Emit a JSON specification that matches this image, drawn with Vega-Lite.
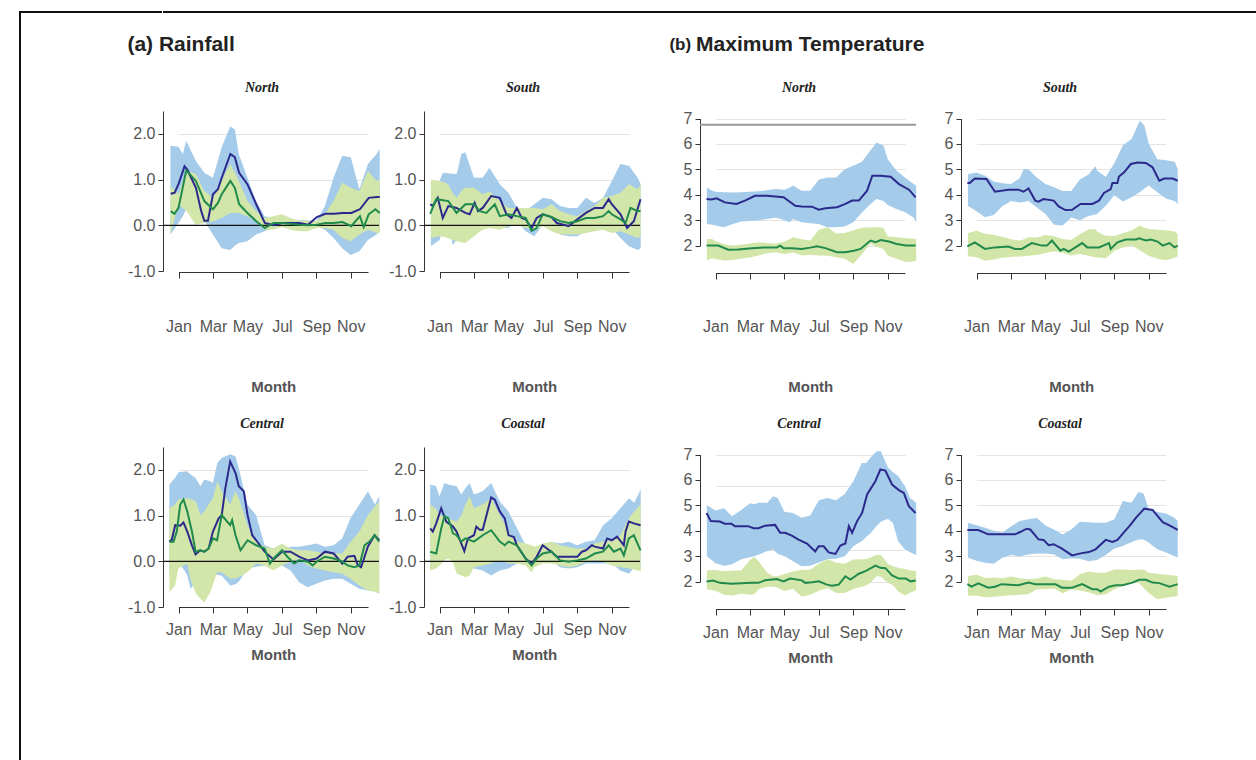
{
  "$schema": "https://vega.github.io/schema/vega-lite/v6.json",
  "background": "white",
  "padding": {"left": 19, "top": 11, "right": 0, "bottom": 0},
  "config": {
    "view": {"stroke": null},
    "axis": {"domainColor": "#333333", "domainWidth": 1, "tickColor": "#333333", "tickWidth": 1, "labelColor": "#555555", "labelFont": "Liberation Sans", "labelFontSize": 16, "labelOverlap": false, "labelFlush": false, "titleFont": "Liberation Sans", "titleFontSize": 15, "titleFontWeight": "bold", "titleColor": "#555555", "gridColor": "#e4e4e4", "gridWidth": 1},
    "title": {"font": "Liberation Serif", "fontStyle": "italic", "fontWeight": "bold", "fontSize": 14, "color": "#222222", "offset": 16, "dx": -9}
  },
  "datasets": {
    "rn_b": [{"m":0.53,"bl":-0.2,"bh":1.74,"gl":-0.2,"gh":0.86},{"m":1.0,"bl":0.05,"bh":1.72,"gl":0.46,"gh":0.68},{"m":1.25,"bl":0.2,"bh":1.56,"gl":0.38,"gh":0.97},{"m":1.45,"bl":0.35,"bh":1.85,"gl":0.32,"gh":1.2},{"m":2.0,"bl":0.38,"bh":1.41,"gl":0.01,"gh":1.12},{"m":2.5,"bl":0.09,"bh":1.15,"gl":0.05,"gh":0.75},{"m":3.0,"bl":-0.2,"bh":1.04,"gl":0.09,"gh":0.6},{"m":3.5,"bl":-0.5,"bh":1.7,"gl":0.16,"gh":0.97},{"m":4.0,"bl":-0.54,"bh":2.16,"gl":0.27,"gh":1.34},{"m":4.27,"bl":-0.45,"bh":2.1,"gl":0.27,"gh":1.15},{"m":4.5,"bl":-0.39,"bh":1.56,"gl":0.27,"gh":0.97},{"m":5.0,"bl":-0.35,"bh":1.04,"gl":0.2,"gh":0.53},{"m":5.5,"bl":-0.2,"bh":0.53,"gl":0.09,"gh":0.31},{"m":6.0,"bl":-0.13,"bh":0.2,"gl":-0.1,"gh":0.16},{"m":6.5,"bl":-0.06,"bh":0.16,"gl":-0.1,"gh":0.2},{"m":7.0,"bl":-0.02,"bh":0.13,"gl":-0.04,"gh":0.24},{"m":7.5,"bl":-0.04,"bh":0.12,"gl":-0.1,"gh":0.16},{"m":8.0,"bl":-0.06,"bh":0.11,"gl":-0.13,"gh":0.1},{"m":8.5,"bl":-0.04,"bh":0.11,"gl":-0.13,"gh":0.1},{"m":9.0,"bl":-0.02,"bh":0.09,"gl":-0.06,"gh":0.09},{"m":9.5,"bl":-0.1,"bh":0.42,"gl":-0.06,"gh":0.24},{"m":10.0,"bl":-0.28,"bh":1.04,"gl":-0.1,"gh":0.53},{"m":10.5,"bl":-0.5,"bh":1.52,"gl":-0.28,"gh":0.93},{"m":11.0,"bl":-0.65,"bh":1.49,"gl":-0.35,"gh":0.82},{"m":11.5,"bl":-0.57,"bh":0.79,"gl":-0.2,"gh":0.75},{"m":12.0,"bl":-0.32,"bh":1.34,"gl":-0.1,"gh":1.19},{"m":12.5,"bl":-0.2,"bh":1.56,"gl":-0.17,"gh":0.97},{"m":12.68,"bl":-0.13,"bh":1.67,"gl":-0.17,"gh":1.0}],
    "rn_n": [{"m":0.55,"v":0.69},{"m":0.77,"v":0.71},{"m":1.0,"v":0.9},{"m":1.35,"v":1.29},{"m":1.51,"v":1.22},{"m":2.01,"v":0.82},{"m":2.32,"v":0.31},{"m":2.5,"v":0.1},{"m":2.71,"v":0.1},{"m":3.0,"v":0.68},{"m":3.29,"v":0.79},{"m":3.51,"v":1.04},{"m":4.01,"v":1.56},{"m":4.27,"v":1.49},{"m":4.52,"v":1.15},{"m":5.0,"v":0.9},{"m":5.51,"v":0.46},{"m":6.01,"v":0.05},{"m":6.52,"v":0.0},{"m":7.03,"v":0.05},{"m":7.53,"v":0.05},{"m":8.02,"v":0.05},{"m":8.52,"v":0.01},{"m":9.03,"v":0.18},{"m":9.53,"v":0.25},{"m":10.02,"v":0.25},{"m":10.52,"v":0.27},{"m":11.03,"v":0.27},{"m":11.53,"v":0.35},{"m":12.04,"v":0.6},{"m":12.54,"v":0.62},{"m":12.68,"v":0.62}],
    "rn_g": [{"m":0.55,"v":0.31},{"m":0.77,"v":0.25},{"m":1.0,"v":0.38},{"m":1.45,"v":1.2},{"m":2.01,"v":0.97},{"m":2.5,"v":0.53},{"m":3.0,"v":0.35},{"m":3.29,"v":0.49},{"m":3.51,"v":0.68},{"m":4.01,"v":0.97},{"m":4.27,"v":0.82},{"m":4.52,"v":0.46},{"m":5.0,"v":0.27},{"m":5.51,"v":0.09},{"m":6.01,"v":-0.06},{"m":6.52,"v":0.05},{"m":7.03,"v":0.05},{"m":7.53,"v":0.03},{"m":8.02,"v":0.01},{"m":8.52,"v":0.0},{"m":9.03,"v":0.01},{"m":9.53,"v":0.05},{"m":10.02,"v":0.05},{"m":10.52,"v":0.07},{"m":11.03,"v":-0.02},{"m":11.53,"v":0.2},{"m":11.75,"v":-0.04},{"m":12.04,"v":0.24},{"m":12.43,"v":0.35},{"m":12.68,"v":0.27}],
    "rs_b": [{"m":0.5,"bl":-0.46,"bh":0.97,"gl":-0.28,"gh":1.0},{"m":1.0,"bl":-0.32,"bh":0.97,"gl":-0.24,"gh":0.97},{"m":1.2,"bl":-0.1,"bh":1.15,"gl":-0.25,"gh":0.95},{"m":1.5,"bl":0.05,"bh":1.14,"gl":-0.28,"gh":0.9},{"m":1.77,"bl":-0.43,"bh":1.13,"gl":-0.33,"gh":0.7},{"m":2.0,"bl":-0.32,"bh":1.12,"gl":-0.35,"gh":0.6},{"m":2.27,"bl":-0.2,"bh":1.56,"gl":-0.37,"gh":0.75},{"m":2.5,"bl":-0.13,"bh":1.6,"gl":-0.39,"gh":0.82},{"m":3.0,"bl":-0.06,"bh":1.04,"gl":-0.24,"gh":0.82},{"m":3.5,"bl":-0.06,"bh":1.04,"gl":-0.1,"gh":0.68},{"m":3.9,"bl":-0.06,"bh":1.26,"gl":-0.06,"gh":0.74},{"m":4.5,"bl":-0.06,"bh":0.9,"gl":-0.1,"gh":0.53},{"m":5.0,"bl":-0.06,"bh":0.71,"gl":-0.02,"gh":0.38},{"m":5.5,"bl":0.09,"bh":0.38,"gl":0.01,"gh":0.38},{"m":6.0,"bl":-0.13,"bh":0.31,"gl":-0.06,"gh":0.38},{"m":6.5,"bl":-0.24,"bh":0.46,"gl":-0.1,"gh":0.38},{"m":7.0,"bl":0.01,"bh":0.6,"gl":-0.02,"gh":0.35},{"m":7.5,"bl":0.0,"bh":0.57,"gl":-0.13,"gh":0.46},{"m":8.0,"bl":-0.2,"bh":0.42,"gl":-0.2,"gh":0.31},{"m":8.5,"bl":-0.24,"bh":0.38,"gl":-0.2,"gh":0.24},{"m":9.0,"bl":-0.24,"bh":0.38,"gl":-0.2,"gh":0.2},{"m":9.5,"bl":-0.13,"bh":0.6,"gl":-0.17,"gh":0.31},{"m":10.0,"bl":0.01,"bh":0.49,"gl":-0.13,"gh":0.42},{"m":10.5,"bl":-0.1,"bh":0.6,"gl":-0.1,"gh":0.6},{"m":11.0,"bl":-0.06,"bh":0.97,"gl":-0.17,"gh":0.64},{"m":11.5,"bl":-0.28,"bh":1.34,"gl":-0.13,"gh":0.71},{"m":12.0,"bl":-0.46,"bh":1.3,"gl":-0.2,"gh":0.9},{"m":12.5,"bl":-0.54,"bh":1.04,"gl":-0.28,"gh":0.79},{"m":12.68,"bl":-0.5,"bh":0.9,"gl":-0.24,"gh":0.9}],
    "rs_n": [{"m":0.46,"v":0.46},{"m":0.61,"v":0.42},{"m":0.9,"v":0.6},{"m":1.19,"v":0.16},{"m":1.51,"v":0.42},{"m":1.99,"v":0.38},{"m":2.5,"v":0.27},{"m":2.75,"v":0.24},{"m":3.04,"v":0.49},{"m":3.24,"v":0.31},{"m":3.51,"v":0.38},{"m":4.0,"v":0.64},{"m":4.5,"v":0.6},{"m":4.89,"v":0.24},{"m":5.18,"v":0.16},{"m":5.49,"v":0.38},{"m":5.77,"v":0.16},{"m":6.0,"v":0.13},{"m":6.35,"v":-0.06},{"m":6.64,"v":0.16},{"m":6.99,"v":0.24},{"m":7.5,"v":0.18},{"m":7.81,"v":0.05},{"m":8.2,"v":0.01},{"m":8.49,"v":-0.02},{"m":9.0,"v":0.13},{"m":9.5,"v":0.27},{"m":10.01,"v":0.38},{"m":10.49,"v":0.38},{"m":10.82,"v":0.57},{"m":11.0,"v":0.46},{"m":11.51,"v":0.24},{"m":11.89,"v":-0.06},{"m":12.28,"v":0.09},{"m":12.67,"v":0.57}],
    "rs_g": [{"m":0.46,"v":0.25},{"m":0.81,"v":0.57},{"m":1.51,"v":0.53},{"m":1.99,"v":0.27},{"m":2.5,"v":0.46},{"m":3.0,"v":0.46},{"m":3.33,"v":0.31},{"m":3.72,"v":0.27},{"m":4.21,"v":0.46},{"m":4.5,"v":0.2},{"m":5.0,"v":0.24},{"m":5.49,"v":0.2},{"m":6.0,"v":0.16},{"m":6.35,"v":-0.12},{"m":6.64,"v":-0.06},{"m":6.99,"v":0.24},{"m":7.5,"v":0.18},{"m":8.0,"v":0.09},{"m":8.49,"v":0.05},{"m":9.0,"v":0.09},{"m":9.5,"v":0.16},{"m":10.01,"v":0.16},{"m":10.49,"v":0.2},{"m":10.82,"v":0.31},{"m":11.0,"v":0.24},{"m":11.51,"v":0.13},{"m":11.8,"v":0.05},{"m":12.09,"v":0.38},{"m":12.5,"v":0.31},{"m":12.67,"v":0.31}],
    "rc_b": [{"m":0.47,"bl":-0.3,"bh":1.68,"gl":-0.68,"gh":1.16},{"m":0.8,"bl":-0.2,"bh":1.82,"gl":-0.53,"gh":1.24},{"m":1.0,"bl":0.0,"bh":1.95,"gl":-0.15,"gh":1.35},{"m":1.5,"bl":-0.3,"bh":1.97,"gl":-0.05,"gh":1.38},{"m":1.7,"bl":-0.6,"bh":1.9,"gl":-0.4,"gh":1.36},{"m":2.0,"bl":-0.45,"bh":1.82,"gl":-0.7,"gh":1.31},{"m":2.27,"bl":-0.3,"bh":1.64,"gl":-0.82,"gh":1.01},{"m":2.5,"bl":-0.24,"bh":1.79,"gl":-0.9,"gh":1.09},{"m":2.85,"bl":-0.27,"bh":1.75,"gl":-0.68,"gh":1.3},{"m":3.0,"bl":-0.28,"bh":1.71,"gl":-0.5,"gh":1.38},{"m":3.25,"bl":-0.3,"bh":2.15,"gl":-0.24,"gh":1.75},{"m":3.5,"bl":-0.31,"bh":2.26,"gl":-0.24,"gh":1.53},{"m":4.0,"bl":-0.53,"bh":2.34,"gl":-0.38,"gh":1.24},{"m":4.3,"bl":-0.5,"bh":2.3,"gl":-0.37,"gh":1.53},{"m":4.5,"bl":-0.45,"bh":2.04,"gl":-0.35,"gh":1.38},{"m":5.0,"bl":-0.16,"bh":1.24,"gl":-0.24,"gh":0.79},{"m":5.5,"bl":-0.12,"bh":1.01,"gl":-0.05,"gh":0.43},{"m":6.0,"bl":-0.09,"bh":0.35,"gl":-0.09,"gh":0.32},{"m":6.5,"bl":-0.09,"bh":0.28,"gl":-0.2,"gh":0.28},{"m":7.0,"bl":-0.09,"bh":0.24,"gl":-0.09,"gh":0.39},{"m":7.5,"bl":-0.2,"bh":0.32,"gl":-0.01,"gh":0.28},{"m":8.0,"bl":-0.46,"bh":0.32,"gl":0.06,"gh":0.24},{"m":8.5,"bl":-0.57,"bh":0.35,"gl":-0.09,"gh":0.24},{"m":9.0,"bl":-0.49,"bh":0.39,"gl":-0.16,"gh":0.21},{"m":9.5,"bl":-0.42,"bh":0.32,"gl":-0.2,"gh":0.17},{"m":10.0,"bl":-0.38,"bh":0.35,"gl":-0.24,"gh":0.17},{"m":10.5,"bl":-0.38,"bh":0.5,"gl":-0.27,"gh":0.17},{"m":11.0,"bl":-0.49,"bh":0.96,"gl":-0.38,"gh":0.43},{"m":11.5,"bl":-0.6,"bh":1.24,"gl":-0.53,"gh":0.65},{"m":12.0,"bl":-0.64,"bh":1.53,"gl":-0.64,"gh":1.01},{"m":12.4,"bl":-0.66,"bh":1.24,"gl":-0.66,"gh":1.2},{"m":12.65,"bl":-0.71,"bh":1.42,"gl":-0.71,"gh":1.31}],
    "rc_n": [{"m":0.47,"v":0.43},{"m":0.61,"v":0.47},{"m":0.81,"v":0.79},{"m":1.1,"v":0.78},{"m":1.29,"v":0.85},{"m":1.51,"v":0.65},{"m":1.78,"v":0.35},{"m":1.99,"v":0.15},{"m":2.26,"v":0.24},{"m":2.5,"v":0.21},{"m":2.75,"v":0.28},{"m":3.0,"v":0.65},{"m":3.33,"v":0.94},{"m":3.51,"v":1.01},{"m":3.72,"v":1.6},{"m":4.0,"v":2.18},{"m":4.31,"v":1.93},{"m":4.5,"v":1.64},{"m":4.79,"v":1.53},{"m":5.01,"v":1.01},{"m":5.28,"v":0.57},{"m":5.51,"v":0.46},{"m":6.0,"v":0.21},{"m":6.51,"v":0.04},{"m":7.01,"v":0.21},{"m":7.5,"v":0.21},{"m":8.0,"v":0.1},{"m":8.51,"v":0.02},{"m":9.02,"v":0.06},{"m":9.5,"v":0.21},{"m":10.01,"v":0.17},{"m":10.51,"v":-0.05},{"m":10.82,"v":0.1},{"m":11.21,"v":0.12},{"m":11.41,"v":-0.09},{"m":11.6,"v":-0.13},{"m":11.99,"v":0.32},{"m":12.38,"v":0.57},{"m":12.65,"v":0.46}],
    "rc_g": [{"m":0.47,"v":0.43},{"m":0.71,"v":0.43},{"m":0.9,"v":0.65},{"m":1.1,"v":1.24},{"m":1.29,"v":1.35},{"m":1.51,"v":1.09},{"m":1.78,"v":0.65},{"m":1.99,"v":0.21},{"m":2.26,"v":0.24},{"m":2.5,"v":0.21},{"m":2.75,"v":0.28},{"m":3.0,"v":0.5},{"m":3.24,"v":0.46},{"m":3.51,"v":1.01},{"m":3.82,"v":0.87},{"m":4.0,"v":0.79},{"m":4.11,"v":0.9},{"m":4.31,"v":0.57},{"m":4.6,"v":0.24},{"m":5.01,"v":0.46},{"m":5.51,"v":0.35},{"m":6.0,"v":0.28},{"m":6.31,"v":-0.05},{"m":6.51,"v":0.06},{"m":7.01,"v":0.24},{"m":7.32,"v":0.1},{"m":7.71,"v":-0.05},{"m":8.0,"v":0.02},{"m":8.51,"v":-0.01},{"m":8.78,"v":-0.09},{"m":9.02,"v":-0.01},{"m":9.5,"v":0.1},{"m":10.01,"v":0.06},{"m":10.51,"v":-0.01},{"m":10.82,"v":-0.09},{"m":11.21,"v":-0.13},{"m":11.5,"v":-0.09},{"m":11.8,"v":0.35},{"m":12.09,"v":0.43},{"m":12.38,"v":0.57},{"m":12.65,"v":0.43}],
    "rk_b": [{"m":0.46,"bl":-0.2,"bh":1.68,"gl":-0.2,"gh":1.24},{"m":0.8,"bl":0.0,"bh":1.64,"gl":-0.16,"gh":1.15},{"m":1.0,"bl":0.06,"bh":1.42,"gl":-0.09,"gh":1.01},{"m":1.29,"bl":0.3,"bh":1.71,"gl":0.02,"gh":0.97},{"m":1.5,"bl":0.35,"bh":1.68,"gl":0.06,"gh":0.94},{"m":1.77,"bl":0.2,"bh":1.66,"gl":-0.01,"gh":0.9},{"m":2.0,"bl":-0.16,"bh":1.64,"gl":-0.27,"gh":0.87},{"m":2.27,"bl":-0.24,"bh":1.46,"gl":-0.31,"gh":1.0},{"m":2.5,"bl":-0.16,"bh":1.6,"gl":-0.35,"gh":1.24},{"m":2.75,"bl":-0.16,"bh":1.71,"gl":-0.31,"gh":1.42},{"m":3.0,"bl":-0.16,"bh":1.46,"gl":-0.13,"gh":1.16},{"m":3.5,"bl":-0.2,"bh":1.53,"gl":-0.09,"gh":1.24},{"m":4.0,"bl":-0.31,"bh":1.71,"gl":-0.05,"gh":1.38},{"m":4.5,"bl":-0.2,"bh":1.31,"gl":0.02,"gh":1.01},{"m":5.0,"bl":-0.16,"bh":1.09,"gl":-0.05,"gh":0.65},{"m":5.5,"bl":-0.05,"bh":0.72,"gl":-0.05,"gh":0.43},{"m":6.0,"bl":-0.01,"bh":0.35,"gl":-0.09,"gh":0.39},{"m":6.35,"bl":-0.12,"bh":0.2,"gl":-0.24,"gh":0.35},{"m":6.5,"bl":-0.13,"bh":0.17,"gl":-0.13,"gh":0.32},{"m":7.0,"bl":-0.01,"bh":0.35,"gl":-0.05,"gh":0.39},{"m":7.5,"bl":0.02,"bh":0.43,"gl":-0.05,"gh":0.43},{"m":8.0,"bl":-0.13,"bh":0.39,"gl":-0.09,"gh":0.35},{"m":8.5,"bl":-0.16,"bh":0.43,"gl":-0.13,"gh":0.31},{"m":9.0,"bl":-0.13,"bh":0.35,"gl":-0.09,"gh":0.28},{"m":9.5,"bl":-0.05,"bh":0.43,"gl":-0.01,"gh":0.28},{"m":10.0,"bl":-0.05,"bh":0.46,"gl":0.02,"gh":0.39},{"m":10.5,"bl":-0.05,"bh":0.79,"gl":-0.01,"gh":0.43},{"m":11.0,"bl":-0.05,"bh":0.94,"gl":-0.09,"gh":0.46},{"m":11.5,"bl":-0.2,"bh":1.16,"gl":-0.13,"gh":0.57},{"m":12.0,"bl":-0.27,"bh":1.38,"gl":-0.16,"gh":0.94},{"m":12.3,"bl":-0.13,"bh":1.28,"gl":-0.18,"gh":1.09},{"m":12.68,"bl":-0.16,"bh":1.57,"gl":-0.22,"gh":1.24}],
    "rk_n": [{"m":0.46,"v":0.72},{"m":0.61,"v":0.65},{"m":0.81,"v":0.83},{"m":1.1,"v":1.16},{"m":1.39,"v":0.87},{"m":1.78,"v":0.76},{"m":1.99,"v":0.65},{"m":2.44,"v":0.22},{"m":2.65,"v":0.5},{"m":3.0,"v":0.57},{"m":3.14,"v":0.76},{"m":3.33,"v":0.69},{"m":3.51,"v":0.69},{"m":4.0,"v":1.4},{"m":4.21,"v":1.35},{"m":4.5,"v":1.09},{"m":4.79,"v":0.94},{"m":5.01,"v":0.57},{"m":5.32,"v":0.53},{"m":5.49,"v":0.35},{"m":6.0,"v":0.06},{"m":6.35,"v":-0.05},{"m":6.64,"v":0.1},{"m":6.99,"v":0.35},{"m":7.23,"v":0.28},{"m":7.5,"v":0.21},{"m":7.81,"v":0.1},{"m":8.49,"v":0.1},{"m":9.0,"v":0.1},{"m":9.27,"v":0.21},{"m":9.5,"v":0.24},{"m":9.85,"v":0.35},{"m":10.01,"v":0.32},{"m":10.49,"v":0.28},{"m":10.73,"v":0.5},{"m":11.0,"v":0.46},{"m":11.31,"v":0.54},{"m":11.7,"v":0.35},{"m":11.8,"v":0.65},{"m":11.99,"v":0.87},{"m":12.28,"v":0.83},{"m":12.67,"v":0.79}],
    "rk_g": [{"m":0.46,"v":0.21},{"m":0.81,"v":0.17},{"m":1.1,"v":0.72},{"m":1.29,"v":0.99},{"m":1.51,"v":0.94},{"m":1.78,"v":0.61},{"m":1.99,"v":0.57},{"m":2.26,"v":0.43},{"m":2.5,"v":0.5},{"m":3.0,"v":0.43},{"m":3.51,"v":0.57},{"m":4.0,"v":0.68},{"m":4.5,"v":0.43},{"m":4.79,"v":0.35},{"m":5.01,"v":0.43},{"m":5.49,"v":0.35},{"m":6.0,"v":0.06},{"m":6.35,"v":-0.09},{"m":6.64,"v":0.06},{"m":6.99,"v":0.17},{"m":7.5,"v":0.21},{"m":8.0,"v":0.02},{"m":8.49,"v":-0.01},{"m":9.0,"v":0.02},{"m":9.5,"v":0.06},{"m":10.01,"v":0.17},{"m":10.49,"v":0.21},{"m":10.82,"v":0.35},{"m":11.12,"v":0.21},{"m":11.51,"v":0.28},{"m":11.7,"v":0.13},{"m":11.99,"v":0.5},{"m":12.28,"v":0.57},{"m":12.67,"v":0.24}],
    "tn_b": [{"m":0.5,"bl":2.85,"bh":4.29,"gl":1.41,"gh":2.26},{"m":0.8,"bl":2.82,"bh":4.16,"gl":1.5,"gh":2.26},{"m":1.0,"bl":2.79,"bh":4.12,"gl":1.47,"gh":2.18},{"m":1.5,"bl":2.72,"bh":4.1,"gl":1.41,"gh":2.05},{"m":2.0,"bl":2.85,"bh":4.09,"gl":1.43,"gh":2.0},{"m":2.5,"bl":2.95,"bh":4.1,"gl":1.48,"gh":2.03},{"m":3.0,"bl":2.97,"bh":4.12,"gl":1.53,"gh":2.08},{"m":3.5,"bl":3.0,"bh":4.14,"gl":1.61,"gh":2.13},{"m":4.0,"bl":3.05,"bh":4.18,"gl":1.7,"gh":2.1},{"m":4.5,"bl":3.11,"bh":4.23,"gl":1.74,"gh":2.07},{"m":5.0,"bl":3.0,"bh":4.2,"gl":1.67,"gh":2.16},{"m":5.3,"bl":2.92,"bh":4.28,"gl":1.7,"gh":2.25},{"m":5.5,"bl":3.05,"bh":4.36,"gl":1.74,"gh":2.33},{"m":6.0,"bl":2.92,"bh":4.16,"gl":1.61,"gh":2.25},{"m":6.5,"bl":2.88,"bh":4.16,"gl":1.64,"gh":2.2},{"m":7.0,"bl":2.85,"bh":4.6,"gl":1.61,"gh":2.62},{"m":7.5,"bl":2.72,"bh":4.68,"gl":1.6,"gh":2.72},{"m":8.0,"bl":2.72,"bh":4.68,"gl":1.54,"gh":2.48},{"m":8.5,"bl":2.75,"bh":5.0,"gl":1.48,"gh":2.5},{"m":9.0,"bl":2.92,"bh":5.14,"gl":1.28,"gh":2.6},{"m":9.5,"bl":3.3,"bh":5.3,"gl":1.67,"gh":2.7},{"m":10.0,"bl":3.64,"bh":5.75,"gl":2.07,"gh":2.72},{"m":10.35,"bl":3.83,"bh":6.06,"gl":1.95,"gh":2.72},{"m":10.75,"bl":3.75,"bh":5.93,"gl":1.87,"gh":2.7},{"m":11.0,"bl":3.6,"bh":5.4,"gl":1.6,"gh":2.36},{"m":11.5,"bl":3.44,"bh":4.95,"gl":1.48,"gh":2.33},{"m":12.0,"bl":3.31,"bh":4.68,"gl":1.35,"gh":2.3},{"m":12.5,"bl":3.11,"bh":4.42,"gl":1.37,"gh":2.27},{"m":12.65,"bl":2.92,"bh":4.36,"gl":1.41,"gh":2.26}],
    "tn_n": [{"m":0.48,"v":3.83},{"m":0.77,"v":3.81},{"m":1.06,"v":3.86},{"m":1.54,"v":3.7},{"m":2.22,"v":3.64},{"m":2.71,"v":3.77},{"m":3.29,"v":3.96},{"m":3.97,"v":3.96},{"m":4.95,"v":3.9},{"m":5.63,"v":3.57},{"m":6.01,"v":3.54},{"m":6.6,"v":3.53},{"m":6.99,"v":3.41},{"m":7.38,"v":3.47},{"m":8.06,"v":3.51},{"m":8.54,"v":3.64},{"m":8.93,"v":3.77},{"m":9.32,"v":3.77},{"m":9.8,"v":4.16},{"m":10.1,"v":4.75},{"m":10.58,"v":4.75},{"m":11.17,"v":4.71},{"m":11.65,"v":4.42},{"m":12.23,"v":4.2},{"m":12.62,"v":3.9}],
    "tn_g": [{"m":0.48,"v":2.0},{"m":1.16,"v":2.0},{"m":1.74,"v":1.84},{"m":2.32,"v":1.85},{"m":3.1,"v":1.9},{"m":3.88,"v":1.93},{"m":4.56,"v":1.93},{"m":4.75,"v":2.0},{"m":4.95,"v":1.9},{"m":5.43,"v":1.9},{"m":6.01,"v":1.87},{"m":6.5,"v":1.92},{"m":6.89,"v":1.97},{"m":7.38,"v":1.9},{"m":8.06,"v":1.74},{"m":8.54,"v":1.74},{"m":9.03,"v":1.8},{"m":9.42,"v":1.87},{"m":10.0,"v":2.2},{"m":10.29,"v":2.13},{"m":10.58,"v":2.22},{"m":11.07,"v":2.16},{"m":11.46,"v":2.07},{"m":12.04,"v":2.0},{"m":12.62,"v":2.0}],
    "ts_b": [{"m":0.5,"bl":3.57,"bh":4.81,"gl":1.58,"gh":2.5},{"m":1.0,"bl":3.35,"bh":4.88,"gl":1.54,"gh":2.58},{"m":1.5,"bl":3.12,"bh":4.75,"gl":1.4,"gh":2.47},{"m":2.0,"bl":3.2,"bh":4.52,"gl":1.45,"gh":2.43},{"m":2.5,"bl":3.55,"bh":4.45,"gl":1.52,"gh":2.35},{"m":3.0,"bl":3.75,"bh":4.42,"gl":1.55,"gh":2.25},{"m":3.5,"bl":3.7,"bh":4.65,"gl":1.57,"gh":2.2},{"m":3.75,"bl":3.72,"bh":5.01,"gl":1.58,"gh":2.25},{"m":4.0,"bl":3.76,"bh":5.0,"gl":1.6,"gh":2.33},{"m":4.5,"bl":3.5,"bh":4.68,"gl":1.63,"gh":2.32},{"m":5.0,"bl":3.24,"bh":4.42,"gl":1.71,"gh":2.42},{"m":5.5,"bl":2.82,"bh":4.3,"gl":1.78,"gh":2.37},{"m":6.0,"bl":2.79,"bh":4.15,"gl":1.72,"gh":2.26},{"m":6.5,"bl":3.11,"bh":4.15,"gl":1.61,"gh":2.22},{"m":7.0,"bl":3.0,"bh":4.6,"gl":1.67,"gh":2.45},{"m":7.5,"bl":3.16,"bh":4.8,"gl":1.6,"gh":2.63},{"m":7.9,"bl":3.22,"bh":5.12,"gl":1.54,"gh":2.65},{"m":8.0,"bl":3.24,"bh":4.95,"gl":1.53,"gh":2.55},{"m":8.5,"bl":3.57,"bh":4.7,"gl":1.5,"gh":2.39},{"m":9.0,"bl":3.98,"bh":5.25,"gl":1.8,"gh":2.38},{"m":9.5,"bl":3.73,"bh":5.95,"gl":1.93,"gh":2.5},{"m":10.0,"bl":3.9,"bh":6.19,"gl":2.0,"gh":2.59},{"m":10.48,"bl":4.1,"bh":6.91,"gl":1.82,"gh":2.79},{"m":10.75,"bl":4.25,"bh":6.71,"gl":1.7,"gh":2.7},{"m":11.0,"bl":4.36,"bh":6.0,"gl":1.6,"gh":2.65},{"m":11.5,"bl":4.1,"bh":5.4,"gl":1.48,"gh":2.62},{"m":12.0,"bl":3.85,"bh":5.36,"gl":1.42,"gh":2.6},{"m":12.5,"bl":3.75,"bh":5.3,"gl":1.52,"gh":2.55},{"m":12.68,"bl":3.64,"bh":5.01,"gl":1.58,"gh":2.46}],
    "ts_n": [{"m":0.47,"v":4.46},{"m":0.61,"v":4.46},{"m":0.9,"v":4.64},{"m":1.58,"v":4.62},{"m":2.07,"v":4.12},{"m":2.85,"v":4.2},{"m":3.43,"v":4.2},{"m":3.73,"v":4.12},{"m":4.02,"v":4.25},{"m":4.41,"v":3.77},{"m":4.6,"v":3.73},{"m":4.89,"v":3.83},{"m":5.48,"v":3.77},{"m":5.77,"v":3.54},{"m":6.16,"v":3.4},{"m":6.55,"v":3.41},{"m":7.04,"v":3.64},{"m":7.72,"v":3.64},{"m":8.11,"v":3.77},{"m":8.4,"v":4.07},{"m":8.79,"v":4.22},{"m":8.89,"v":4.46},{"m":9.18,"v":4.46},{"m":9.27,"v":4.72},{"m":9.57,"v":4.88},{"m":9.96,"v":5.21},{"m":10.35,"v":5.27},{"m":10.83,"v":5.25},{"m":11.22,"v":5.08},{"m":11.61,"v":4.55},{"m":11.9,"v":4.64},{"m":12.39,"v":4.64},{"m":12.68,"v":4.55}],
    "ts_g": [{"m":0.47,"v":1.97},{"m":0.9,"v":2.13},{"m":1.49,"v":1.87},{"m":2.07,"v":1.93},{"m":2.85,"v":1.96},{"m":3.24,"v":1.87},{"m":3.63,"v":1.87},{"m":4.21,"v":2.1},{"m":4.8,"v":2.0},{"m":5.09,"v":2.0},{"m":5.38,"v":2.2},{"m":5.87,"v":1.8},{"m":6.06,"v":1.87},{"m":6.35,"v":1.76},{"m":6.74,"v":1.93},{"m":7.13,"v":2.1},{"m":7.43,"v":1.93},{"m":8.11,"v":1.93},{"m":8.69,"v":2.1},{"m":8.79,"v":1.87},{"m":9.18,"v":2.13},{"m":9.66,"v":2.24},{"m":10.25,"v":2.24},{"m":10.44,"v":2.29},{"m":10.83,"v":2.2},{"m":11.12,"v":2.24},{"m":11.51,"v":2.16},{"m":11.81,"v":2.0},{"m":12.2,"v":2.1},{"m":12.49,"v":1.93},{"m":12.68,"v":2.0}],
    "tc_b": [{"m":0.5,"bl":3.0,"bh":5.0,"gl":1.69,"gh":2.45},{"m":1.0,"bl":2.72,"bh":4.8,"gl":1.64,"gh":2.46},{"m":1.5,"bl":2.62,"bh":4.89,"gl":1.48,"gh":2.41},{"m":1.95,"bl":2.68,"bh":4.57,"gl":1.45,"gh":2.43},{"m":2.5,"bl":2.88,"bh":4.82,"gl":1.52,"gh":2.45},{"m":3.0,"bl":2.96,"bh":5.08,"gl":1.48,"gh":2.85},{"m":3.25,"bl":3.0,"bh":5.04,"gl":1.5,"gh":2.98},{"m":3.5,"bl":3.06,"bh":5.1,"gl":1.7,"gh":2.8},{"m":4.0,"bl":3.2,"bh":5.1,"gl":1.8,"gh":2.35},{"m":4.35,"bl":3.26,"bh":5.36,"gl":1.8,"gh":2.21},{"m":4.6,"bl":3.1,"bh":5.3,"gl":1.76,"gh":2.21},{"m":5.0,"bl":3.0,"bh":4.75,"gl":1.63,"gh":2.3},{"m":5.5,"bl":2.8,"bh":4.7,"gl":1.72,"gh":2.4},{"m":6.0,"bl":2.6,"bh":4.51,"gl":1.4,"gh":2.47},{"m":6.5,"bl":2.62,"bh":4.6,"gl":1.48,"gh":2.47},{"m":7.0,"bl":2.75,"bh":5.2,"gl":1.64,"gh":2.7},{"m":7.5,"bl":2.88,"bh":5.29,"gl":1.75,"gh":2.88},{"m":8.0,"bl":2.9,"bh":5.2,"gl":1.55,"gh":2.75},{"m":8.5,"bl":3.0,"bh":5.45,"gl":1.55,"gh":2.7},{"m":9.0,"bl":3.39,"bh":5.95,"gl":1.71,"gh":2.87},{"m":9.5,"bl":3.6,"bh":6.67,"gl":1.8,"gh":2.88},{"m":9.75,"bl":3.75,"bh":6.67,"gl":1.85,"gh":2.89},{"m":10.0,"bl":3.9,"bh":6.88,"gl":1.95,"gh":2.95},{"m":10.35,"bl":4.2,"bh":7.13,"gl":2.21,"gh":3.06},{"m":10.6,"bl":4.35,"bh":7.13,"gl":2.19,"gh":3.06},{"m":11.0,"bl":4.47,"bh":6.5,"gl":1.95,"gh":2.7},{"m":11.3,"bl":4.31,"bh":6.3,"gl":1.86,"gh":2.6},{"m":11.6,"bl":3.59,"bh":6.15,"gl":1.62,"gh":2.54},{"m":12.0,"bl":3.26,"bh":5.75,"gl":1.45,"gh":2.5},{"m":12.3,"bl":3.15,"bh":5.29,"gl":1.56,"gh":2.45},{"m":12.65,"bl":3.05,"bh":5.1,"gl":1.66,"gh":2.41}],
    "tc_n": [{"m":0.48,"v":4.7},{"m":0.73,"v":4.38},{"m":1.25,"v":4.36},{"m":1.54,"v":4.28},{"m":1.93,"v":4.28},{"m":2.13,"v":4.18},{"m":2.9,"v":4.18},{"m":3.2,"v":4.1},{"m":3.49,"v":4.1},{"m":3.88,"v":4.2},{"m":4.46,"v":4.23},{"m":4.75,"v":3.92},{"m":5.04,"v":3.92},{"m":5.43,"v":3.81},{"m":5.82,"v":3.65},{"m":6.31,"v":3.5},{"m":6.79,"v":3.19},{"m":6.99,"v":3.39},{"m":7.28,"v":3.39},{"m":7.57,"v":3.15},{"m":7.96,"v":3.09},{"m":8.25,"v":3.42},{"m":8.54,"v":3.5},{"m":8.74,"v":4.18},{"m":8.93,"v":3.92},{"m":9.22,"v":4.38},{"m":9.51,"v":4.7},{"m":9.8,"v":5.43},{"m":10.28,"v":5.95},{"m":10.57,"v":6.41},{"m":10.86,"v":6.37},{"m":11.25,"v":5.82},{"m":11.64,"v":5.6},{"m":11.93,"v":5.49},{"m":12.22,"v":4.97},{"m":12.61,"v":4.7}],
    "tc_g": [{"m":0.48,"v":2.0},{"m":0.86,"v":2.04},{"m":1.25,"v":1.95},{"m":1.93,"v":1.92},{"m":3.1,"v":1.95},{"m":3.49,"v":1.95},{"m":3.88,"v":2.05},{"m":4.56,"v":2.1},{"m":4.95,"v":2.01},{"m":5.33,"v":2.12},{"m":6.01,"v":2.05},{"m":6.21,"v":1.95},{"m":6.6,"v":1.97},{"m":6.99,"v":2.01},{"m":7.47,"v":1.88},{"m":7.76,"v":1.84},{"m":8.15,"v":1.88},{"m":8.54,"v":2.21},{"m":8.83,"v":2.08},{"m":9.32,"v":2.31},{"m":9.71,"v":2.41},{"m":10.28,"v":2.63},{"m":10.57,"v":2.54},{"m":10.86,"v":2.53},{"m":11.25,"v":2.24},{"m":11.64,"v":2.12},{"m":12.04,"v":2.12},{"m":12.33,"v":2.01},{"m":12.62,"v":2.04}],
    "tk_b": [{"m":0.5,"bl":2.94,"bh":4.32,"gl":1.44,"gh":2.22},{"m":1.0,"bl":2.82,"bh":4.22,"gl":1.44,"gh":2.27},{"m":1.5,"bl":2.74,"bh":4.12,"gl":1.38,"gh":2.14},{"m":2.0,"bl":2.7,"bh":4.0,"gl":1.4,"gh":2.16},{"m":2.5,"bl":2.94,"bh":3.93,"gl":1.43,"gh":2.13},{"m":3.0,"bl":3.05,"bh":4.17,"gl":1.46,"gh":2.2},{"m":3.5,"bl":2.99,"bh":4.38,"gl":1.48,"gh":2.13},{"m":4.0,"bl":3.07,"bh":4.45,"gl":1.5,"gh":2.09},{"m":4.5,"bl":3.11,"bh":4.5,"gl":1.7,"gh":2.12},{"m":5.0,"bl":3.11,"bh":4.21,"gl":1.7,"gh":2.2},{"m":5.5,"bl":3.07,"bh":4.05,"gl":1.73,"gh":2.09},{"m":6.0,"bl":2.88,"bh":3.85,"gl":1.54,"gh":2.07},{"m":6.5,"bl":2.92,"bh":4.05,"gl":1.7,"gh":2.03},{"m":7.0,"bl":2.9,"bh":4.35,"gl":1.65,"gh":2.29},{"m":7.5,"bl":2.8,"bh":4.33,"gl":1.58,"gh":2.4},{"m":8.0,"bl":2.85,"bh":4.32,"gl":1.46,"gh":2.35},{"m":8.5,"bl":3.05,"bh":4.32,"gl":1.5,"gh":2.35},{"m":9.0,"bl":3.3,"bh":4.45,"gl":1.7,"gh":2.48},{"m":9.5,"bl":3.4,"bh":5.17,"gl":1.83,"gh":2.48},{"m":10.0,"bl":3.56,"bh":5.1,"gl":1.96,"gh":2.46},{"m":10.4,"bl":3.66,"bh":5.52,"gl":1.96,"gh":2.47},{"m":10.7,"bl":3.66,"bh":5.47,"gl":1.75,"gh":2.48},{"m":11.0,"bl":3.53,"bh":4.84,"gl":1.55,"gh":2.35},{"m":11.5,"bl":3.27,"bh":4.74,"gl":1.31,"gh":2.31},{"m":12.0,"bl":3.14,"bh":4.68,"gl":1.36,"gh":2.27},{"m":12.5,"bl":3.0,"bh":4.5,"gl":1.41,"gh":2.24},{"m":12.68,"bl":2.94,"bh":4.38,"gl":1.44,"gh":2.22}],
    "tk_n": [{"m":0.47,"v":4.03},{"m":1.1,"v":4.03},{"m":1.68,"v":3.86},{"m":2.27,"v":3.86},{"m":3.24,"v":3.86},{"m":3.53,"v":3.95},{"m":3.92,"v":4.08},{"m":4.12,"v":4.05},{"m":4.6,"v":3.66},{"m":4.89,"v":3.64},{"m":5.19,"v":3.43},{"m":5.48,"v":3.47},{"m":5.96,"v":3.3},{"m":6.55,"v":3.03},{"m":7.04,"v":3.11},{"m":7.52,"v":3.16},{"m":7.91,"v":3.27},{"m":8.5,"v":3.64},{"m":8.89,"v":3.56},{"m":9.18,"v":3.64},{"m":9.57,"v":3.95},{"m":9.96,"v":4.25},{"m":10.25,"v":4.51},{"m":10.74,"v":4.87},{"m":11.22,"v":4.82},{"m":11.81,"v":4.34},{"m":12.2,"v":4.21},{"m":12.68,"v":4.03}],
    "tk_g": [{"m":0.47,"v":1.9},{"m":0.71,"v":1.8},{"m":1.1,"v":1.93},{"m":1.68,"v":1.76},{"m":2.07,"v":1.8},{"m":2.46,"v":1.9},{"m":3.43,"v":1.86},{"m":4.02,"v":1.96},{"m":4.41,"v":1.9},{"m":5.58,"v":1.9},{"m":5.96,"v":1.76},{"m":6.55,"v":1.76},{"m":7.13,"v":1.9},{"m":7.72,"v":1.7},{"m":8.01,"v":1.7},{"m":8.2,"v":1.61},{"m":8.69,"v":1.8},{"m":9.08,"v":1.86},{"m":9.47,"v":1.86},{"m":10.05,"v":1.96},{"m":10.44,"v":2.07},{"m":10.83,"v":2.07},{"m":11.22,"v":1.96},{"m":11.61,"v":1.94},{"m":12.2,"v":1.8},{"m":12.68,"v":1.9}]
  },
  "spacing": -36,
  "hconcat": [
    {
      "width": 142, "height": 780,
      "data": {"values": []},
      "mark": "point",
      "view": {"stroke": "#111111", "strokeWidth": 2, "strokeDash": [142, 780, 3000]}
    },
    {
      "spacing": 19,
      "vconcat": [
        {
          "width": 1140, "height": 1,
          "data": {"values": []},
          "mark": "point",
          "view": {"stroke": "#111111", "strokeWidth": 2, "strokeDash": [1140, 5000]}
        },
        {
          "spacing": 22,
          "vconcat": [
            {
              "spacing": 38,
              "title": {"text": "(b)", "anchor": "start", "font": "Liberation Sans", "fontStyle": "normal", "fontWeight": "bold", "fontSize": 17, "color": "#222222", "offset": 0, "dx": 542, "dy": 20},
              "hconcat": [
                {
                  "bounds": "flush",
                  "spacing": 45,
                  "title": {"text": "(a) Rainfall", "anchor": "start", "font": "Liberation Sans", "fontStyle": "normal", "fontWeight": "bold", "fontSize": 21, "color": "#222222", "offset": 26, "dx": 0},
                  "hconcat": [
                    {
                      "width": 216, "height": 160, "title": {"text": "North"},
                      "layer": [
                        {"data": {"name": "rn_b"}, "mark": {"type": "area", "color": "#a5cbea"}, "encoding": {
                          "x": {"field": "m", "type": "quantitative", "scale": {"domain": [1, 12], "range": [15.5, 205], "nice": false, "zero": false}, "axis": {"values": [1,2,3,4,5,6,7,8,9,10,11,12], "labelExpr": "['Jan','','Mar','','May','','Jul','','Sep','','Nov',''][datum.value - 1]", "title": "Month", "labelPadding": 40, "titlePadding": 45, "tickSize": 6, "offset": 1, "grid": false}},
                          "y": {"field": "bh", "type": "quantitative", "scale": {"domain": [-1, 2.5], "nice": false, "zero": false}, "axis": {"values": [-1,-0.5,0,0.5,1,1.5,2,2.5], "labelExpr": "datum.value % 1 !== 0 ? '' : (datum.value < 0 ? '-' : '') + format(abs(datum.value), '.1f')", "grid": true, "gridOpacity": {"condition": {"test": "datum.value === -1", "value": 0}, "value": 1}, "tickOpacity": {"condition": {"test": "datum.value % 1 === 0", "value": 1}, "value": 0}, "tickSize": 5, "labelPadding": 3, "title": null}},
                          "y2": {"field": "bl"}}},
                        {"data": {"name": "rn_b"}, "mark": {"type": "area", "color": "#d3e6a9"}, "encoding": {"x": {"field": "m", "type": "quantitative", "axis": {"title": "Month"}}, "y": {"field": "gh", "type": "quantitative", "axis": {"title": null}}, "y2": {"field": "gl"}}},
                        {"data": {"values": [{"r": 0}]}, "mark": {"type": "rule", "color": "#111111", "strokeWidth": 1.2}, "encoding": {"y": {"field": "r", "type": "quantitative", "axis": {"title": null}}}},
                        {"data": {"name": "rn_n"}, "mark": {"type": "line", "color": "#2b2a8c", "strokeWidth": 2}, "encoding": {"x": {"field": "m", "type": "quantitative", "axis": {"title": "Month"}}, "y": {"field": "v", "type": "quantitative", "axis": {"title": null}}}},
                        {"data": {"name": "rn_g"}, "mark": {"type": "line", "color": "#1f8a4c", "strokeWidth": 2}, "encoding": {"x": {"field": "m", "type": "quantitative", "axis": {"title": "Month"}}, "y": {"field": "v", "type": "quantitative", "axis": {"title": null}}}}
                      ]
                    },
                    {
                      "width": 216, "height": 160, "title": {"text": "South"},
                      "layer": [
                        {"data": {"name": "rs_b"}, "mark": {"type": "area", "color": "#a5cbea"}, "encoding": {
                          "x": {"field": "m", "type": "quantitative", "scale": {"domain": [1, 12], "range": [15.5, 205], "nice": false, "zero": false}, "axis": {"values": [1,2,3,4,5,6,7,8,9,10,11,12], "labelExpr": "['Jan','','Mar','','May','','Jul','','Sep','','Nov',''][datum.value - 1]", "title": "Month", "labelPadding": 40, "titlePadding": 45, "tickSize": 6, "offset": 1, "grid": false}},
                          "y": {"field": "bh", "type": "quantitative", "scale": {"domain": [-1, 2.5], "nice": false, "zero": false}, "axis": {"values": [-1,-0.5,0,0.5,1,1.5,2,2.5], "labelExpr": "datum.value % 1 !== 0 ? '' : (datum.value < 0 ? '-' : '') + format(abs(datum.value), '.1f')", "grid": true, "gridOpacity": {"condition": {"test": "datum.value === -1", "value": 0}, "value": 1}, "tickOpacity": {"condition": {"test": "datum.value % 1 === 0", "value": 1}, "value": 0}, "tickSize": 5, "labelPadding": 3, "title": null}},
                          "y2": {"field": "bl"}}},
                        {"data": {"name": "rs_b"}, "mark": {"type": "area", "color": "#d3e6a9"}, "encoding": {"x": {"field": "m", "type": "quantitative", "axis": {"title": "Month"}}, "y": {"field": "gh", "type": "quantitative", "axis": {"title": null}}, "y2": {"field": "gl"}}},
                        {"data": {"values": [{"r": 0}]}, "mark": {"type": "rule", "color": "#111111", "strokeWidth": 1.2}, "encoding": {"y": {"field": "r", "type": "quantitative", "axis": {"title": null}}}},
                        {"data": {"name": "rs_n"}, "mark": {"type": "line", "color": "#2b2a8c", "strokeWidth": 2}, "encoding": {"x": {"field": "m", "type": "quantitative", "axis": {"title": "Month"}}, "y": {"field": "v", "type": "quantitative", "axis": {"title": null}}}},
                        {"data": {"name": "rs_g"}, "mark": {"type": "line", "color": "#1f8a4c", "strokeWidth": 2}, "encoding": {"x": {"field": "m", "type": "quantitative", "axis": {"title": "Month"}}, "y": {"field": "v", "type": "quantitative", "axis": {"title": null}}}}
                      ]
                    }
                  ]
                },
                {
                  "bounds": "flush",
                  "spacing": 45,
                  "title": {"text": "Maximum Temperature", "anchor": "start", "font": "Liberation Sans", "fontStyle": "normal", "fontWeight": "bold", "fontSize": 21, "color": "#222222", "offset": 26, "dx": 13},
                  "hconcat": [
                    {
                      "width": 216, "height": 162, "title": {"text": "North"},
                      "resolve": {"axis": {"y": "independent"}},
                      "layer": [
                        {"data": {"name": "tn_b"}, "mark": {"type": "area", "color": "#a5cbea"}, "encoding": {
                          "x": {"field": "m", "type": "quantitative", "scale": {"domain": [1, 12], "range": [15.5, 205], "nice": false, "zero": false}, "axis": {"values": [1,2,3,4,5,6,7,8,9,10,11,12], "labelExpr": "['Jan','','Mar','','May','','Jul','','Sep','','Nov',''][datum.value - 1]", "title": "Month", "labelPadding": 39, "titlePadding": 45, "tickSize": 6, "offset": 0, "grid": false}},
                          "y": {"field": "bh", "type": "quantitative", "scale": {"domain": [2, 7], "range": [134.6, 7.5], "nice": false, "zero": false}, "axis": {"orient": "left", "values": [2,4,6], "grid": true, "tickSize": 5, "labelPadding": 3, "title": null}},
                          "y2": {"field": "bl"}}},
                        {"data": {"name": "tn_b"}, "mark": {"type": "area", "color": "#d3e6a9"}, "encoding": {"x": {"field": "m", "type": "quantitative", "axis": {"title": "Month"}}, "y": {"field": "gh", "type": "quantitative", "axis": {"orient": "left", "values": [3,5,7], "grid": true, "tickSize": 5, "labelPadding": 3, "title": null}}, "y2": {"field": "gl"}}},
                        {"data": {"values": [{"r": 6.75}]}, "mark": {"type": "rule", "color": "#9a9a9a", "strokeWidth": 2}, "encoding": {"y": {"field": "r", "type": "quantitative", "axis": null}}},
                        {"data": {"name": "tn_n"}, "mark": {"type": "line", "color": "#2b2a8c", "strokeWidth": 2}, "encoding": {"x": {"field": "m", "type": "quantitative", "axis": {"title": "Month"}}, "y": {"field": "v", "type": "quantitative", "axis": null}}},
                        {"data": {"name": "tn_g"}, "mark": {"type": "line", "color": "#1f8a4c", "strokeWidth": 2}, "encoding": {"x": {"field": "m", "type": "quantitative", "axis": {"title": "Month"}}, "y": {"field": "v", "type": "quantitative", "axis": null}}}
                      ]
                    },
                    {
                      "width": 216, "height": 162, "title": {"text": "South"},
                      "resolve": {"axis": {"y": "independent"}},
                      "layer": [
                        {"data": {"name": "ts_b"}, "mark": {"type": "area", "color": "#a5cbea"}, "encoding": {
                          "x": {"field": "m", "type": "quantitative", "scale": {"domain": [1, 12], "range": [15.5, 205], "nice": false, "zero": false}, "axis": {"values": [1,2,3,4,5,6,7,8,9,10,11,12], "labelExpr": "['Jan','','Mar','','May','','Jul','','Sep','','Nov',''][datum.value - 1]", "title": "Month", "labelPadding": 39, "titlePadding": 45, "tickSize": 6, "offset": 0, "grid": false}},
                          "y": {"field": "bh", "type": "quantitative", "scale": {"domain": [2, 7], "range": [134.6, 7.5], "nice": false, "zero": false}, "axis": {"orient": "left", "values": [2,4,6], "grid": true, "tickSize": 5, "labelPadding": 3, "title": null}},
                          "y2": {"field": "bl"}}},
                        {"data": {"name": "ts_b"}, "mark": {"type": "area", "color": "#d3e6a9"}, "encoding": {"x": {"field": "m", "type": "quantitative", "axis": {"title": "Month"}}, "y": {"field": "gh", "type": "quantitative", "axis": {"orient": "left", "values": [3,5,7], "grid": true, "tickSize": 5, "labelPadding": 3, "title": null}}, "y2": {"field": "gl"}}},
                        {"data": {"name": "ts_n"}, "mark": {"type": "line", "color": "#2b2a8c", "strokeWidth": 2}, "encoding": {"x": {"field": "m", "type": "quantitative", "axis": {"title": "Month"}}, "y": {"field": "v", "type": "quantitative", "axis": null}}},
                        {"data": {"name": "ts_g"}, "mark": {"type": "line", "color": "#1f8a4c", "strokeWidth": 2}, "encoding": {"x": {"field": "m", "type": "quantitative", "axis": {"title": "Month"}}, "y": {"field": "v", "type": "quantitative", "axis": null}}}
                      ]
                    }
                  ]
                }
              ]
            },
            {
              "spacing": 38,
              "hconcat": [
                {
                  "bounds": "flush",
                  "spacing": 45,
                  "hconcat": [
                    {
                      "width": 216, "height": 160, "title": {"text": "Central"},
                      "layer": [
                        {"data": {"name": "rc_b"}, "mark": {"type": "area", "color": "#a5cbea"}, "encoding": {
                          "x": {"field": "m", "type": "quantitative", "scale": {"domain": [1, 12], "range": [15.5, 205], "nice": false, "zero": false}, "axis": {"values": [1,2,3,4,5,6,7,8,9,10,11,12], "labelExpr": "['Jan','','Mar','','May','','Jul','','Sep','','Nov',''][datum.value - 1]", "title": "Month", "labelPadding": 8, "titlePadding": 10, "tickSize": 6, "offset": 0, "grid": false}},
                          "y": {"field": "bh", "type": "quantitative", "scale": {"domain": [-1, 2.5], "nice": false, "zero": false}, "axis": {"values": [-1,-0.5,0,0.5,1,1.5,2,2.5], "labelExpr": "datum.value % 1 !== 0 ? '' : (datum.value < 0 ? '-' : '') + format(abs(datum.value), '.1f')", "grid": true, "gridOpacity": {"condition": {"test": "datum.value === -1", "value": 0}, "value": 1}, "tickOpacity": {"condition": {"test": "datum.value % 1 === 0", "value": 1}, "value": 0}, "tickSize": 5, "labelPadding": 3, "title": null}},
                          "y2": {"field": "bl"}}},
                        {"data": {"name": "rc_b"}, "mark": {"type": "area", "color": "#d3e6a9"}, "encoding": {"x": {"field": "m", "type": "quantitative", "axis": {"title": "Month"}}, "y": {"field": "gh", "type": "quantitative", "axis": {"title": null}}, "y2": {"field": "gl"}}},
                        {"data": {"values": [{"r": 0}]}, "mark": {"type": "rule", "color": "#111111", "strokeWidth": 1.2}, "encoding": {"y": {"field": "r", "type": "quantitative", "axis": {"title": null}}}},
                        {"data": {"name": "rc_n"}, "mark": {"type": "line", "color": "#2b2a8c", "strokeWidth": 2}, "encoding": {"x": {"field": "m", "type": "quantitative", "axis": {"title": "Month"}}, "y": {"field": "v", "type": "quantitative", "axis": {"title": null}}}},
                        {"data": {"name": "rc_g"}, "mark": {"type": "line", "color": "#1f8a4c", "strokeWidth": 2}, "encoding": {"x": {"field": "m", "type": "quantitative", "axis": {"title": "Month"}}, "y": {"field": "v", "type": "quantitative", "axis": {"title": null}}}}
                      ]
                    },
                    {
                      "width": 216, "height": 160, "title": {"text": "Coastal"},
                      "layer": [
                        {"data": {"name": "rk_b"}, "mark": {"type": "area", "color": "#a5cbea"}, "encoding": {
                          "x": {"field": "m", "type": "quantitative", "scale": {"domain": [1, 12], "range": [15.5, 205], "nice": false, "zero": false}, "axis": {"values": [1,2,3,4,5,6,7,8,9,10,11,12], "labelExpr": "['Jan','','Mar','','May','','Jul','','Sep','','Nov',''][datum.value - 1]", "title": "Month", "labelPadding": 8, "titlePadding": 10, "tickSize": 6, "offset": 0, "grid": false}},
                          "y": {"field": "bh", "type": "quantitative", "scale": {"domain": [-1, 2.5], "nice": false, "zero": false}, "axis": {"values": [-1,-0.5,0,0.5,1,1.5,2,2.5], "labelExpr": "datum.value % 1 !== 0 ? '' : (datum.value < 0 ? '-' : '') + format(abs(datum.value), '.1f')", "grid": true, "gridOpacity": {"condition": {"test": "datum.value === -1", "value": 0}, "value": 1}, "tickOpacity": {"condition": {"test": "datum.value % 1 === 0", "value": 1}, "value": 0}, "tickSize": 5, "labelPadding": 3, "title": null}},
                          "y2": {"field": "bl"}}},
                        {"data": {"name": "rk_b"}, "mark": {"type": "area", "color": "#d3e6a9"}, "encoding": {"x": {"field": "m", "type": "quantitative", "axis": {"title": "Month"}}, "y": {"field": "gh", "type": "quantitative", "axis": {"title": null}}, "y2": {"field": "gl"}}},
                        {"data": {"values": [{"r": 0}]}, "mark": {"type": "rule", "color": "#111111", "strokeWidth": 1.2}, "encoding": {"y": {"field": "r", "type": "quantitative", "axis": {"title": null}}}},
                        {"data": {"name": "rk_n"}, "mark": {"type": "line", "color": "#2b2a8c", "strokeWidth": 2}, "encoding": {"x": {"field": "m", "type": "quantitative", "axis": {"title": "Month"}}, "y": {"field": "v", "type": "quantitative", "axis": {"title": null}}}},
                        {"data": {"name": "rk_g"}, "mark": {"type": "line", "color": "#1f8a4c", "strokeWidth": 2}, "encoding": {"x": {"field": "m", "type": "quantitative", "axis": {"title": "Month"}}, "y": {"field": "v", "type": "quantitative", "axis": {"title": null}}}}
                      ]
                    }
                  ]
                },
                {
                  "bounds": "flush",
                  "spacing": 45,
                  "hconcat": [
                    {
                      "width": 216, "height": 162, "title": {"text": "Central"},
                      "resolve": {"axis": {"y": "independent"}},
                      "layer": [
                        {"data": {"name": "tc_b"}, "mark": {"type": "area", "color": "#a5cbea"}, "encoding": {
                          "x": {"field": "m", "type": "quantitative", "scale": {"domain": [1, 12], "range": [15.5, 205], "nice": false, "zero": false}, "axis": {"values": [1,2,3,4,5,6,7,8,9,10,11,12], "labelExpr": "['Jan','','Mar','','May','','Jul','','Sep','','Nov',''][datum.value - 1]", "title": "Month", "labelPadding": 9, "titlePadding": 10, "tickSize": 6, "offset": 0, "grid": false}},
                          "y": {"field": "bh", "type": "quantitative", "scale": {"domain": [2, 7], "range": [134.6, 7.5], "nice": false, "zero": false}, "axis": {"orient": "left", "values": [2,4,6], "grid": true, "gridOpacity": {"condition": {"test": "datum.value === 2", "value": 1}, "value": 0}, "tickSize": 5, "labelPadding": 3, "title": null}},
                          "y2": {"field": "bl"}}},
                        {"data": {"name": "tc_b"}, "mark": {"type": "area", "color": "#d3e6a9"}, "encoding": {"x": {"field": "m", "type": "quantitative", "axis": {"title": "Month"}}, "y": {"field": "gh", "type": "quantitative", "axis": {"orient": "left", "values": [3,5,7], "grid": true, "gridOpacity": {"condition": {"test": "datum.value === 7", "value": 1}, "value": 0}, "tickSize": 5, "labelPadding": 3, "title": null}}, "y2": {"field": "gl"}}},
                        {"data": {"name": "tc_n"}, "mark": {"type": "line", "color": "#2b2a8c", "strokeWidth": 2}, "encoding": {"x": {"field": "m", "type": "quantitative", "axis": {"title": "Month"}}, "y": {"field": "v", "type": "quantitative", "axis": {"orient": "left", "values": [3.25,4.5,5.75], "grid": true, "labels": false, "ticks": false, "domain": false, "title": null}}}},
                        {"data": {"name": "tc_g"}, "mark": {"type": "line", "color": "#1f8a4c", "strokeWidth": 2}, "encoding": {"x": {"field": "m", "type": "quantitative", "axis": {"title": "Month"}}, "y": {"field": "v", "type": "quantitative", "axis": null}}}
                      ]
                    },
                    {
                      "width": 216, "height": 162, "title": {"text": "Coastal"},
                      "resolve": {"axis": {"y": "independent"}},
                      "layer": [
                        {"data": {"name": "tk_b"}, "mark": {"type": "area", "color": "#a5cbea"}, "encoding": {
                          "x": {"field": "m", "type": "quantitative", "scale": {"domain": [1, 12], "range": [15.5, 205], "nice": false, "zero": false}, "axis": {"values": [1,2,3,4,5,6,7,8,9,10,11,12], "labelExpr": "['Jan','','Mar','','May','','Jul','','Sep','','Nov',''][datum.value - 1]", "title": "Month", "labelPadding": 9, "titlePadding": 10, "tickSize": 6, "offset": 0, "grid": false}},
                          "y": {"field": "bh", "type": "quantitative", "scale": {"domain": [2, 7], "range": [134.6, 7.5], "nice": false, "zero": false}, "axis": {"orient": "left", "values": [2,4,6], "grid": true, "tickSize": 5, "labelPadding": 3, "title": null}},
                          "y2": {"field": "bl"}}},
                        {"data": {"name": "tk_b"}, "mark": {"type": "area", "color": "#d3e6a9"}, "encoding": {"x": {"field": "m", "type": "quantitative", "axis": {"title": "Month"}}, "y": {"field": "gh", "type": "quantitative", "axis": {"orient": "left", "values": [3,5,7], "grid": true, "tickSize": 5, "labelPadding": 3, "title": null}}, "y2": {"field": "gl"}}},
                        {"data": {"name": "tk_n"}, "mark": {"type": "line", "color": "#2b2a8c", "strokeWidth": 2}, "encoding": {"x": {"field": "m", "type": "quantitative", "axis": {"title": "Month"}}, "y": {"field": "v", "type": "quantitative", "axis": null}}},
                        {"data": {"name": "tk_g"}, "mark": {"type": "line", "color": "#1f8a4c", "strokeWidth": 2}, "encoding": {"x": {"field": "m", "type": "quantitative", "axis": {"title": "Month"}}, "y": {"field": "v", "type": "quantitative", "axis": null}}}
                      ]
                    }
                  ]
                }
              ]
            }
          ]
        }
      ]
    }
  ]
}
